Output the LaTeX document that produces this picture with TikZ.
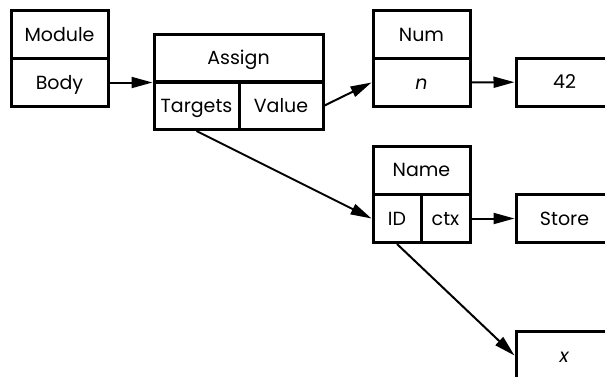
\documentclass[tikz,border=0pt]{standalone}
\usepackage{fontspec}
\setmainfont{Poppins}
\usetikzlibrary{arrows.meta}

\begin{document}
\begin{tikzpicture}[x=1pt,y=-1pt]

        \useasboundingbox (0,0) rectangle (605,376);

        \begin{scope}[every node/.style={rectangle,draw,line width=3pt,
            minimum height=48pt,inner sep=0pt,text height=13pt,text depth=0pt,
            font=\fontsize{19}{22}\selectfont}]
          \node[minimum width=97pt]  (module)  at (59.5,34.5)  {Module};
          \node[minimum width=97pt]  (body)    at (59.5,82.5)  {Body};
          \node[minimum width=169pt] (assign)  at (238.5,58)   {Assign};
          \node[minimum width=85pt]  (targets) at (196.5,105.5) {Targets};
          \node[minimum width=84pt]  (value)   at (281,105.5)  {Value};
          \node[minimum width=97pt]  (num)     at (421.5,34.5) {Num};
          \node[minimum width=97pt]  (n)       at (421.5,82.5) {\textit{n}};
          \node[minimum width=97pt]  (const)   at (564.5,82)   {42};
          \node[minimum width=97pt]  (name)    at (421.5,170)  {Name};
          \node[minimum width=48pt]  (id)      at (397,218.5)  {ID};
          \node[minimum width=49pt]  (ctx)     at (445.5,218.5) {ctx};
          \node[minimum width=97pt]  (store)   at (564.5,218.5) {Store};
          \node[minimum width=97pt]  (x)       at (564.5,355.5) {\textit{x}};
        \end{scope}

        \begin{scope}[every edge/.style={draw,line width=2pt,
            -{Triangle[length=21pt,width=11pt]}}]
          \path (body)      edge (assign.west |- body);
          \path (value.east) edge (n.west);
          \path (n)         edge (const);
          \path (targets.south) edge (id.west);
          \path (ctx)       edge (store);
          \path (id.south)  edge (x.west);
        \end{scope}

      \end{tikzpicture}
\end{document}
